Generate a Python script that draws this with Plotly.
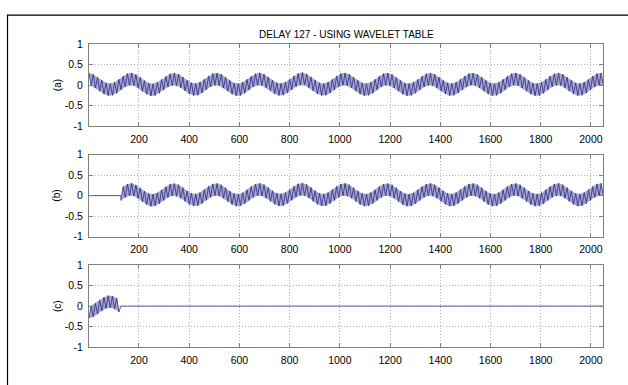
import plotly.graph_objects as go

W, H = 628, 385

# ---- data ----
title_text = "DELAY 127 - USING WAVELET TABLE"
panel_labels = ["(a)", "(b)", "(c)"]
delay = 127
n_samples = 2048
vertex_step = 8.5  # sample spacing between successive zig-zag turning points

x_tickvals = [200, 400, 600, 800, 1000, 1200, 1400, 1600, 1800, 2000]
y_tickvals = [-1, -0.5, 0, 0.5, 1]
y_ticktext = ["-1", "-0.5", "0", "0.5", "1"]

# (a) original signal: turning points of the fast oscillation
signal_a = [
    0.299, -0.012, 0.266, -0.066, 0.196, -0.144, 0.116, -0.217, 0.057, -0.257, 0.041, -0.248, 0.074, -0.194, 0.144, -0.116, 0.224, -0.043, 0.283, -0.003,
    0.301, -0.010, 0.262, -0.070, 0.190, -0.150, 0.112, -0.221, 0.052, -0.262, 0.038, -0.251, 0.070, -0.198, 0.140, -0.120, 0.220, -0.046, 0.280, -0.006,
    0.296, -0.014, 0.268, -0.064, 0.199, -0.141, 0.118, -0.214, 0.060, -0.254, 0.043, -0.246, 0.076, -0.191, 0.147, -0.113, 0.227, -0.040, 0.286, 0.000,
    0.298, -0.011, 0.265, -0.067, 0.194, -0.146, 0.115, -0.219, 0.055, -0.259, 0.040, -0.249, 0.073, -0.195, 0.143, -0.117, 0.223, -0.044, 0.282, -0.004,
    0.302, -0.009, 0.270, -0.062, 0.200, -0.140, 0.120, -0.213, 0.061, -0.252, 0.045, -0.244, 0.078, -0.190, 0.148, -0.112, 0.228, -0.039, 0.288, 0.002,
    0.312, 0.000, 0.275, -0.058, 0.203, -0.138, 0.121, -0.212, 0.060, -0.254, 0.042, -0.247, 0.075, -0.193, 0.145, -0.115, 0.225, -0.042, 0.285, -0.001,
    0.300, -0.012, 0.266, -0.066, 0.196, -0.144, 0.116, -0.217, 0.057, -0.257, 0.041, -0.248, 0.074, -0.194, 0.144, -0.116, 0.224, -0.043, 0.283, -0.003,
    0.297, -0.013, 0.264, -0.068, 0.193, -0.147, 0.114, -0.220, 0.054, -0.260, 0.039, -0.250, 0.072, -0.196, 0.142, -0.118, 0.222, -0.045, 0.281, -0.005,
    0.300, -0.012, 0.267, -0.065, 0.197, -0.143, 0.117, -0.216, 0.058, -0.256, 0.042, -0.247, 0.075, -0.193, 0.145, -0.115, 0.225, -0.042, 0.284, -0.002,
    0.298, -0.012, 0.266, -0.066, 0.196, -0.144, 0.116, -0.217, 0.057, -0.257, 0.041, -0.248, 0.074, -0.194, 0.144, -0.116, 0.224, -0.043, 0.283, -0.003,
    0.299, -0.011, 0.265, -0.067, 0.195, -0.145, 0.115, -0.218, 0.056, -0.258, 0.040, -0.249, 0.073, -0.195, 0.143, -0.117, 0.223, -0.044, 0.282, -0.004,
    0.301, -0.010, 0.267, -0.065, 0.197, -0.143, 0.117, -0.216, 0.058, -0.256, 0.042, -0.247, 0.075, -0.193, 0.145, -0.115, 0.225, -0.042, 0.284, -0.002,
    0.300, -0.011,
]
sample_a = [1 + vertex_step * k for k in range(len(signal_a))]

# (b) delayed reconstruction: silent for the first `delay` samples
first_b = 15

# (c) difference: only the first `delay` samples are non-zero
signal_c = [-0.299, 0.012, -0.266, 0.066, -0.196, 0.144, -0.116, 0.217,
            -0.057, 0.257, -0.041, 0.248, -0.074, 0.194, -0.144]
sample_c = sample_a[:15]
tail_c_x = [sample_a[14], delay + 1, n_samples]
tail_c_y = [signal_c[-1], 0.0, 0.0]

# ---- layout geometry (pixels) ----
x_left, x_right = 89.0, 603.0
panels_px = [(39.5, 124.0), (153.5, 238.0), (267.5, 352.0)]

line_color = "#2c2c8a"
band_color = "#a8a8cc"
axis_color = "#808080"
grid_color = "#b4b4b4"
font_family = "Liberation Sans, Arial, Helvetica, sans-serif"


def band(xs, ys):
    """Polygon enclosing the fast oscillation: its maxima, then minima reversed."""
    up_x, up_y = xs[0::2], ys[0::2]
    lo_x, lo_y = xs[1::2], ys[1::2]
    return up_x + lo_x[::-1], up_y + lo_y[::-1]


fig = go.Figure()
panels = [
    [(sample_a, signal_a, True)],
    [([1, delay + 1, sample_a[first_b]], [0.0, 0.0, signal_a[first_b]], False),
     (sample_a[first_b:], signal_a[first_b:], True)],
    [(sample_c, signal_c, True), (tail_c_x, tail_c_y, False)],
]
for i, parts in enumerate(panels):
    ax = "" if i == 0 else str(i + 1)
    for xs, ys, osc in parts:
        if osc:
            bx, by = band(xs, ys)
            fig.add_trace(go.Scatter(x=bx, y=by, mode="lines", fill="toself",
                                     fillcolor=band_color, line=dict(width=0),
                                     xaxis="x" + ax, yaxis="y" + ax,
                                     showlegend=False, hoverinfo="skip"))
        fig.add_trace(go.Scatter(x=xs, y=ys, mode="lines",
                                 line=dict(color=line_color, width=0.8),
                                 xaxis="x" + ax, yaxis="y" + ax,
                                 showlegend=False, hoverinfo="skip"))

layout = dict(
    width=W, height=H,
    margin=dict(l=0, r=0, t=0, b=0),
    paper_bgcolor="white", plot_bgcolor="white",
    font=dict(family=font_family, size=10, color="black"),
    showlegend=False,
)
xdom = [x_left / W, x_right / W]
annotations = []
for i, (top, bot) in enumerate(panels_px):
    ax = "" if i == 0 else str(i + 1)
    ydom = [1 - bot / H, 1 - top / H]
    layout["xaxis" + ax] = dict(
        domain=xdom, range=[1, n_samples], anchor="y" + ax,
        tickvals=x_tickvals, ticks="inside", ticklen=4, tickcolor=axis_color,
        showline=True, linecolor=axis_color, linewidth=1, mirror="allticks",
        showgrid=True, gridcolor=grid_color, griddash="1px,2px", gridwidth=1,
        zeroline=False, tickfont=dict(size=10.5, color="black"),
        ticklabelstandoff=3,
    )
    layout["yaxis" + ax] = dict(
        domain=ydom, range=[-1, 1], anchor="x" + ax,
        tickvals=y_tickvals, ticktext=y_ticktext, ticks="inside", ticklen=4,
        tickcolor=axis_color,
        showline=True, linecolor=axis_color, linewidth=1, mirror="allticks",
        showgrid=True, gridcolor=grid_color, griddash="1px,2px", gridwidth=1,
        zeroline=False, tickfont=dict(size=10.5, color="black"),
        ticklabelstandoff=3,
    )
    annotations.append(dict(
        text=panel_labels[i], xref="paper", yref="paper",
        x=57 / W, y=1 - (top + bot) / 2 / H, textangle=-90,
        showarrow=False, font=dict(size=10, color="black"),
        xanchor="center", yanchor="middle",
    ))

annotations.append(dict(
    text=title_text, xref="paper", yref="paper",
    x=(x_left + x_right) / 2 / W, y=1 - 29 / H,
    showarrow=False, font=dict(size=10, color="black"),
    xanchor="center", yanchor="middle",
))
layout["annotations"] = annotations
layout["shapes"] = [dict(type="rect", xref="paper", yref="paper",
                         x0=7.5 / W, x1=1.2, y0=-0.2, y1=1 - 9.5 / H,
                         line=dict(color="black", width=1.2))]

fig.update_layout(**layout)
fig.write_html("out.html", config={"displayModeBar": False},
               post_script="document.body.style.margin='0';document.body.style.overflow='hidden';")
